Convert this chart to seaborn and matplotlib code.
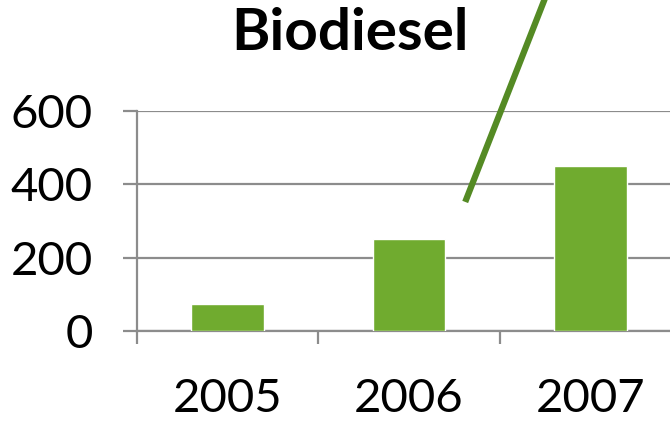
import numpy as np
import pandas as pd
import matplotlib
matplotlib.use("Agg")
import matplotlib.pyplot as plt
import seaborn as sns

# data
years = ["2005", "2006", "2007"]
production = [75, 250, 450]
y_ticks = [0, 200, 400, 600]
title = "Biodiesel"

# decorative green stroke (data coords: category index, value)
stroke_x = [1.31, 1.76]
stroke_y = [352, 920]

sns.set_style("white")
plt.rcParams["font.family"] = ["Lato", "DejaVu Sans"]

df = pd.DataFrame({"year": years, "value": production})

fig = plt.figure(figsize=(6.7, 4.28), dpi=100)
ax = fig.add_axes([137 / 670, 97 / 428, 544 / 670, 220 / 428])

sns.barplot(data=df, x="year", y="value", color="#70AB2F", saturation=1,
            width=0.4, ax=ax, zorder=3)

ax.set_ylim(0, 600)
ax.set_xlim(-0.5, 2.5)
ax.set_yticks(y_ticks)
ax.set_yticklabels([str(t) for t in y_ticks], fontsize=34, color="black")
ax.set_xlabel("")
ax.set_ylabel("")

# gridlines
ax.grid(axis="y", color="#8C8C8C", linewidth=1.6, zorder=0)
for s in ["top", "right"]:
    ax.spines[s].set_visible(False)
ax.spines["left"].set_color("#8C8C8C")
ax.spines["left"].set_linewidth(1.6)
ax.spines["bottom"].set_color("#8C8C8C")
ax.spines["bottom"].set_linewidth(1.6)

ax.tick_params(axis="y", length=10, width=1.6, color="#8C8C8C", pad=22, left=True)
ax.tick_params(axis="x", which="major", length=0, pad=34, labelsize=34, labelcolor="black")
ax.set_xticks(np.arange(len(years)) - 0.5, minor=True)
ax.tick_params(axis="x", which="minor", length=9, width=1.6, color="#8C8C8C", bottom=True)

ax.plot(stroke_x, stroke_y, color="#548A24", linewidth=4.5, clip_on=False,
        solid_capstyle="butt", zorder=5)

fig.text(350 / 670, 1 - 34 / 428, title, fontsize=42, fontweight="bold",
         color="black", ha="center", va="center")

fig.savefig("out.png", dpi=100)
